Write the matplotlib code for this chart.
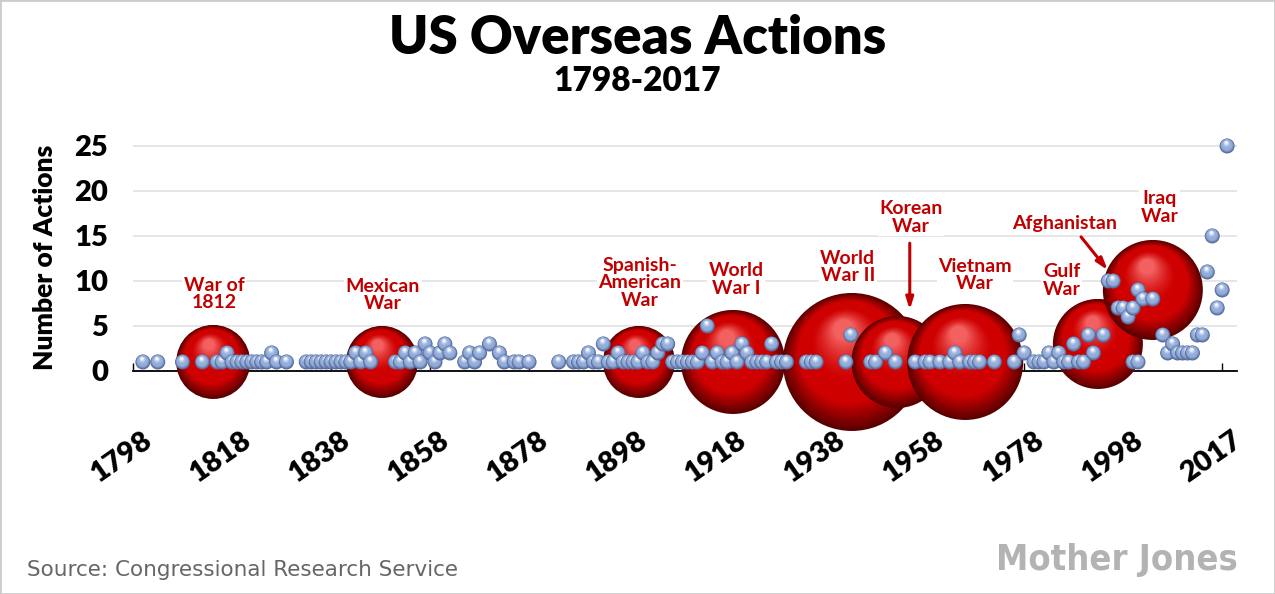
import numpy as np
import matplotlib
matplotlib.use("Agg")
import matplotlib.pyplot as plt
from matplotlib.colors import to_rgb
from matplotlib.patches import Rectangle
from matplotlib.transforms import ScaledTranslation

plt.rcParams['font.family'] = ['Lato', 'DejaVu Sans']

# one dot per year with the number of actions
years = [1800, 1803, 1808, 1812,
         1815, 1816, 1817, 1818, 1819, 1820, 1821, 1822, 1823, 1824, 1825, 1826, 1827, 1829,
         1833, 1834, 1835, 1836, 1837, 1838, 1839, 1840, 1841, 1842, 1843, 1844, 1845, 1846,
         1851, 1852, 1853, 1854, 1855, 1856, 1857, 1858, 1859, 1860, 1861, 1862,
         1865, 1866, 1867, 1868, 1870, 1872, 1873, 1875, 1876, 1878,
         1884, 1887,
         1888, 1889, 1890, 1891, 1892, 1893, 1894, 1895, 1896, 1897, 1898, 1899,
         1900, 1901, 1902, 1903, 1904, 1905, 1906, 1907, 1908, 1909,
         1910, 1911, 1912, 1913, 1914, 1915, 1916, 1917, 1918, 1919,
         1920, 1921, 1922, 1923, 1924, 1925, 1926, 1927, 1928, 1929, 1930,
         1934, 1935, 1936, 1942, 1943,
         1947, 1948, 1950, 1952, 1956, 1958, 1959, 1961,
         1963, 1964, 1965, 1967, 1968, 1969, 1972,
         1976, 1977, 1978, 1980, 1981, 1982, 1983, 1984, 1985, 1986, 1987, 1988,
         1989, 1990, 1991, 1992, 1994,
         1995, 1996, 1997, 1998, 1999, 2000, 2000, 2001, 2001, 2002, 2004,
         2006, 2007, 2008, 2009, 2010, 2011, 2012, 2013, 2014,
         2015, 2016, 2017, 2018, 2019]
actions = [1, 1, 1, 1,
           1, 1, 2, 1, 1, 1, 1, 1, 1, 1, 1, 2, 1, 1,
           1, 1, 1, 1, 1, 1, 1, 1, 1, 1, 2, 1, 2, 1,
           1, 1, 2, 1, 2, 1, 3, 2, 1, 2, 3, 2,
           1, 2, 1, 2, 3, 2, 1, 1, 1, 1,
           1, 1,
           1, 1, 2, 1, 1, 3, 1, 1, 2, 1, 1, 1,
           1, 2, 1, 1, 2, 3, 3, 1, 1, 1,
           1, 1, 1, 2, 5, 1, 2, 1, 1, 2,
           1, 3, 2, 1, 1, 1, 1, 3, 1, 1, 1,
           1, 1, 1, 1, 4,
           1, 1, 2, 1, 1, 1, 1, 1,
           1, 2, 1, 1, 1, 1, 1,
           1, 4, 2, 1, 1, 1, 2, 1, 2, 1, 1, 3,
           1, 1, 4, 2, 4,
           10, 10, 7, 7, 6, 7, 1, 9, 1, 8, 8,
           4, 2, 3, 2, 2, 2, 2, 4, 4,
           11, 15, 7, 9, 25]

# the big red bubbles
war_names = ['War of\n1812', 'Mexican\nWar', 'Spanish-\nAmerican\nWar', 'World\nWar I',
             'World\nWar II', 'Korean\nWar', 'Vietnam\nWar', 'Gulf\nWar', 'Iraq\nWar']
war_x = [1814.2, 1848.3, 1900.2, 1919.2, 1943.2, 1952.4, 1966.1, 1992.9, 2004.0]
war_y = [1, 1, 1, 1, 1, 1, 1, 3, 9]
war_size = [37, 36, 36, 52, 69, 46, 58, 45, 50]

xtick_years = [1798, 1818, 1838, 1858, 1878, 1898, 1918, 1938, 1958, 1978, 1998, 2018]
xtick_labels = ['1798', '1818', '1838', '1858', '1878', '1898', '1918', '1938',
                '1958', '1978', '1998', '2017']

RED = '#c00000'

fig = plt.figure(figsize=(12.75, 5.94), dpi=100)
ax = fig.add_axes([133 / 1275, 1 - 440 / 594, 1104 / 1275, 303 / 594])
ax.set_xlim(1798, 2021)
ax.set_ylim(-7.67, 26)

# pixels per data unit, used to shift the shading layers
p0 = ax.transData.transform((0, 0))
sx = ax.transData.transform((1, 0))[0] - p0[0]
sy = ax.transData.transform((0, 1))[1] - p0[1]


def lerp(a, b, t):
    a, b = np.array(to_rgb(a)), np.array(to_rgb(b))
    return a + (b - a) * t


def spheres(xs, ys, radii, rim, body, hl, n, shrink, zorder):
    ox, oy, ss, cc = [], [], [], []
    for x, y, r in zip(xs, ys, radii):
        for k in range(n):
            t = k / (n - 1)
            f = 1 - shrink * t
            shift = r * (1 - f) * 0.55
            if t < 0.3:
                c = lerp(rim, body, t / 0.3)
            elif t < 0.55:
                c = np.array(to_rgb(body))
            else:
                c = lerp(body, hl, ((t - 0.55) / 0.45) ** 1.4)
            ox.append(x - 0.25 * shift / sx)
            oy.append(y + shift / sy)
            ss.append((2 * r * f * 0.72) ** 2)
            cc.append(c)
    ax.scatter(ox, oy, s=ss, c=cc, linewidths=0, zorder=zorder, clip_on=False)


spheres(war_x, war_y, war_size, '#5a0000', '#cf0000', '#f26060', 40, 0.85, 3)
spheres(years, actions, [7.5] * len(years), '#56699a', '#94aedc', '#f2f6fd', 10, 0.8, 5)

# axes styling
for s in ['left', 'right', 'top']:
    ax.spines[s].set_visible(False)
ax.spines['bottom'].set_position(('data', 0))
ax.spines['bottom'].set_linewidth(1.3)
ax.spines['bottom'].set_zorder(2)
ax.set_yticks([0, 5, 10, 15, 20, 25])
ax.grid(axis='y', color='#e2e2e2', lw=1.2)
ax.set_axisbelow(True)
ax.set_xticks(xtick_years)
ax.set_xticklabels(xtick_labels, rotation=35, ha='center', va='top')
ax.tick_params(axis='x', direction='in', length=6, width=1, color='black',
               pad=40, labelsize=21)
ax.tick_params(axis='y', length=0, pad=18, labelsize=21)
for lab in ax.get_xticklabels():
    lab.set_fontweight('heavy')
    lab.set_transform(lab.get_transform() + ScaledTranslation(-0.11, 0, fig.dpi_scale_trans))
for lab in ax.get_yticklabels():
    lab.set_fontweight('heavy')

# war labels (layout positions)
label_pos = [(1814.4, 8.56), (1848.5, 8.44), (1900.4, 9.78), (1919.8, 10.17),
             (1942.4, 11.56), (1955.1, 17.06), (1968.1, 10.67), (1985.6, 10.06),
             (2005.4, 18.2)]
for name, (lx, ly) in zip(war_names, label_pos):
    ax.text(lx, ly, name, ha='center', va='center', color=RED, fontsize=14,
            fontweight='bold', linespacing=1.05, zorder=4,
            bbox=dict(facecolor='white', edgecolor='none', pad=1))
ax.text(1986.2, 16.44, 'Afghanistan', ha='center', va='center', color=RED,
        fontsize=14, fontweight='bold', zorder=4,
        bbox=dict(facecolor='white', edgecolor='none', pad=1))

arrow = dict(arrowstyle='-|>,head_width=0.22,head_length=0.7', color=RED, lw=2.2,
             shrinkA=0, shrinkB=0)
ax.annotate('', xy=(1954.9, 6.8), xytext=(1954.9, 14.2), arrowprops=arrow, zorder=4)
ax.annotate('', xy=(1994.9, 11.2), xytext=(1989.5, 14.9), arrowprops=arrow, zorder=4)

# titles and notes
fig.text(0.5, 1 - 38 / 594, 'US Overseas Actions', ha='center', va='center',
         fontsize=38, fontweight='heavy')
fig.text(0.5, 1 - 81 / 594, '1798-2017', ha='center', va='center',
         fontsize=24, fontweight='heavy')
fig.text(45 / 1275, 1 - 257 / 594, 'Number of Actions', rotation=90, ha='center',
         va='center', fontsize=19, fontweight='heavy')
fig.text(27 / 1275, 1 - 570 / 594, 'Source: Congressional Research Service',
         ha='left', va='center', color='#666666', fontsize=15.5, family='DejaVu Sans')
fig.text(1238 / 1275, 1 - 560 / 594, 'Mother Jones', ha='right', va='center',
         color='#b3b3b3', fontsize=26, fontweight='bold', fontstretch='condensed',
         family=['DejaVu Sans'])

fig.patches.append(Rectangle((0, 0), 1, 1, transform=fig.transFigure, fill=False,
                             edgecolor='#cccccc', lw=2))

fig.savefig('out.png', dpi=100)
